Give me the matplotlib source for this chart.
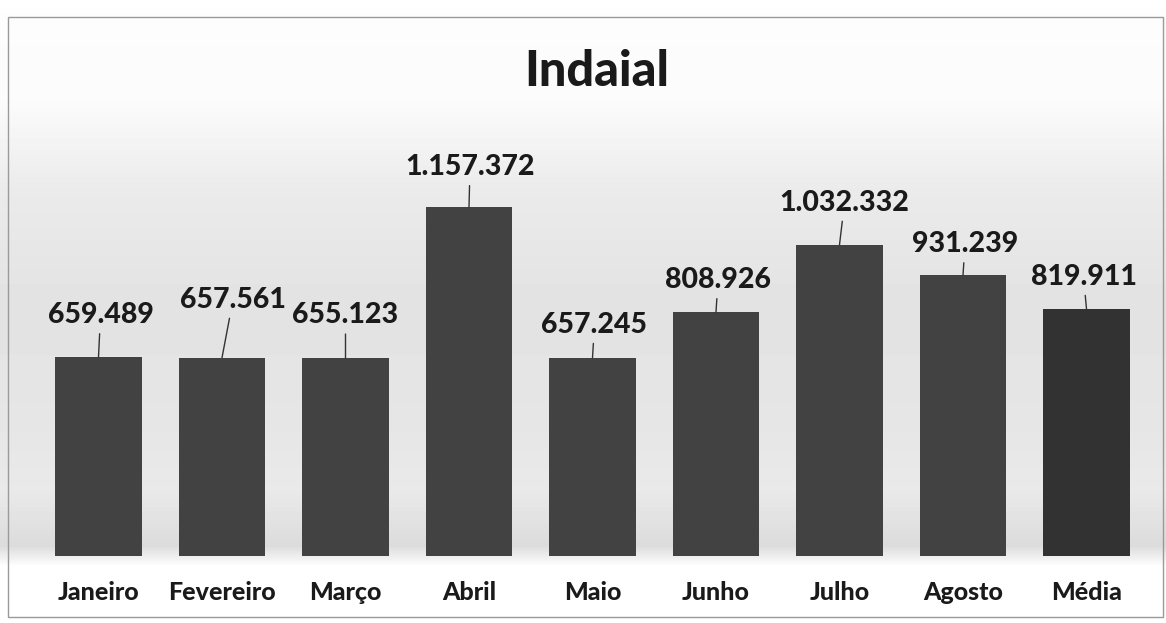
import numpy as np
import matplotlib.pyplot as plt
from matplotlib.patches import Rectangle

meses = ['Janeiro', 'Fevereiro', 'Março', 'Abril', 'Maio', 'Junho', 'Julho', 'Agosto', 'Média']
valores = [659489, 657561, 655123, 1157372, 657245, 808926, 1032332, 931239, 819911]
rotulos = ['659.489', '657.561', '655.123', '1.157.372', '657.245', '808.926', '1.032.332', '931.239', '819.911']

# deslocamento dos rótulos (pixels) em relação ao topo da barra
desl_x = [2, 11, 0, 1, 2, 2, 5, 2, -3]
desl_y = [42, 58, 43, 40, 33, 32, 42, 31, 32]

plt.rcParams['font.family'] = ['Lato', 'DejaVu Sans']

W, H = 1166, 623
fig = plt.figure(figsize=(W / 100, H / 100), dpi=100)

# fundo com degradê
bg = fig.add_axes([0, 0, 1, 1], zorder=0)
bg.set_xlim(0, W)
bg.set_ylim(H, 0)
bg.axis('off')
ys = np.arange(H)
perfil = np.interp(ys, [0, 17, 100, 190, 300, 420, 490, 545, 566, 623],
                   [1.0, 0.99, 0.985, 0.92, 0.89, 0.90, 0.915, 0.86, 1.0, 1.0])
img = np.tile(perfil[:, None], (1, W))
bg.imshow(img, cmap='gray', vmin=0, vmax=1, extent=(0, W, H, 0), aspect='auto')
bg.add_patch(Rectangle((8, 17), 1155, 600, fill=False, edgecolor='#9a9a9a', lw=1))

ax = fig.add_axes([0, 0, 1, 1], zorder=1)
ax.patch.set_alpha(0)
escala = 0.0003015  # pixels por unidade
base = H - 556
x0, passo = 98.5, 123.5
ax.set_xlim(-x0 / passo, (W - x0) / passo)
ax.set_ylim(-base / escala, (H - base) / escala)
ax.axis('off')

cores = ['#424242'] * 8 + ['#323232']
x = np.arange(len(meses))
ax.bar(x, valores, width=0.70, color=cores, zorder=2)

for i, v in enumerate(valores):
    ax.annotate(rotulos[i], xy=(i, v), xytext=(desl_x[i], desl_y[i]),
                textcoords='offset pixels', ha='center', va='center',
                fontsize=20.5, fontweight='black', color='#1a1a1a',
                arrowprops=dict(arrowstyle='-', color='#333333', lw=1,
                                shrinkA=2, shrinkB=0))
    ax.text(i, -36 / escala, meses[i], ha='center', va='center',
            fontsize=18, fontweight='black', color='#1a1a1a')

fig.text(597 / W, 1 - 72 / H, 'Indaial', ha='center', va='center',
         fontsize=35, fontweight='black', color='#1a1a1a')

fig.savefig('out.png', dpi=100)
